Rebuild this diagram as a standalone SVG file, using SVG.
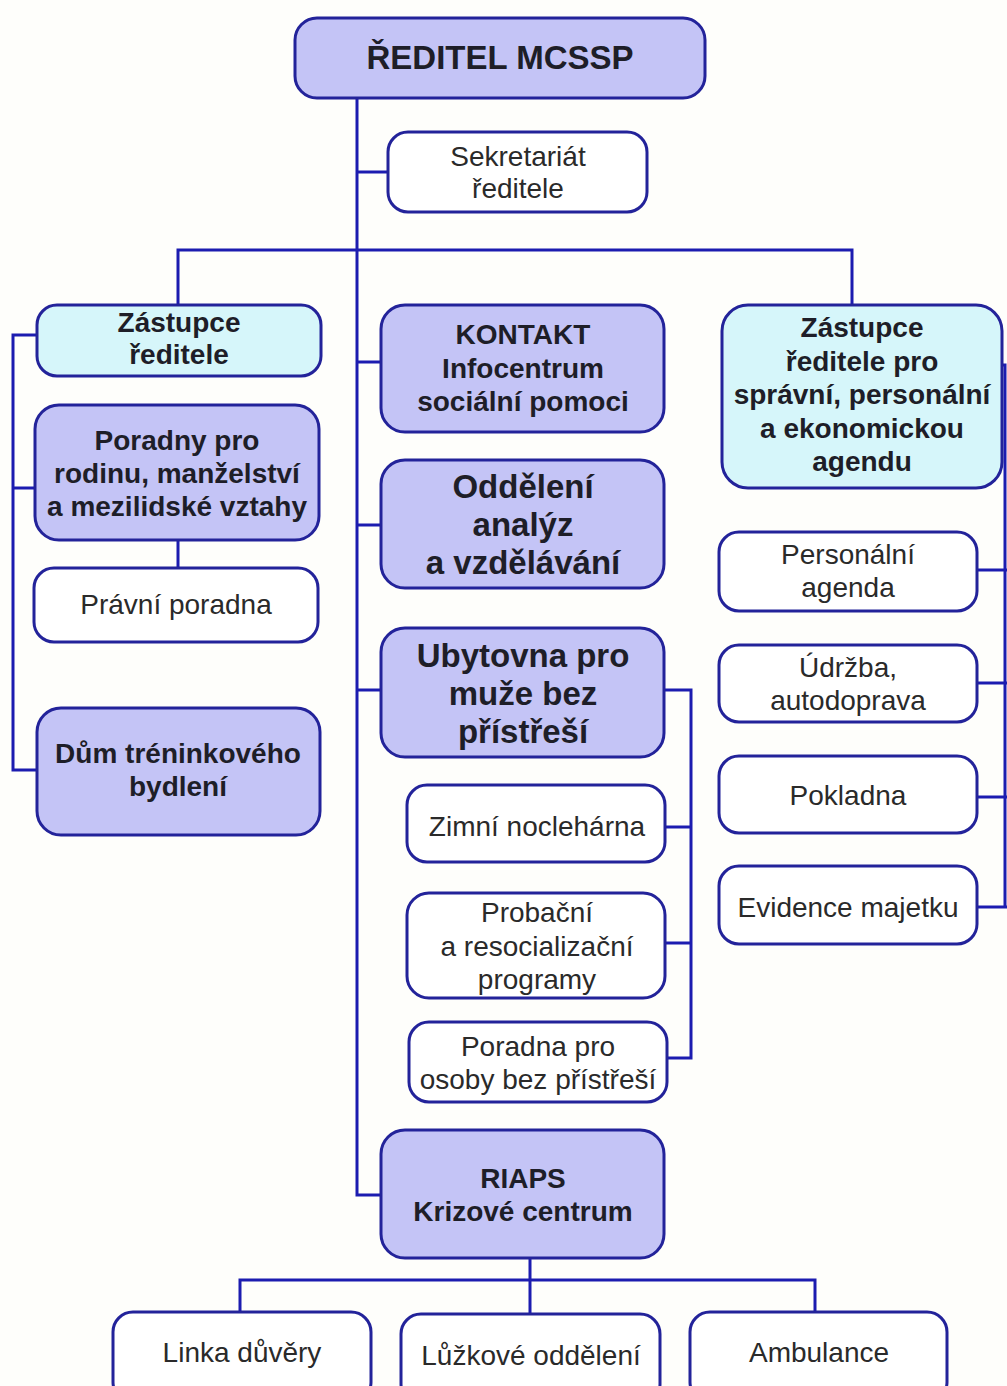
<svg xmlns="http://www.w3.org/2000/svg" width="1007" height="1386" viewBox="0 0 1007 1386">
<style>
  .box{stroke:#23239a;stroke-width:3}
  .lav{fill:#c4c4f6}
  .cy{fill:#d6f6fa}
  .wh{fill:#ffffff}
  .b{font-family:"Liberation Sans",Arial,sans-serif;font-weight:bold;fill:#1e1e28;text-anchor:middle}
  .r{font-family:"Liberation Sans",Arial,sans-serif;font-size:28px;fill:#2a2a2a;text-anchor:middle}
  .s28{font-size:28px}
  .s33{font-size:33px}
  .ln{fill:none;stroke:#1c1cb0;stroke-width:3}
</style>
<rect width="1007" height="1386" fill="#fefefb"/>
<g id="connectors" class="ln">
  <path d="M357,98 V1195 H381"/>
  <path d="M357,172 H388"/>
  <path d="M178,305 V250 H852 V305"/>
  <path d="M37,335 H13 V770 H37"/>
  <path d="M13,488 H35"/>
  <path d="M178,540 V568"/>
  <path d="M357,362 H381"/>
  <path d="M357,525 H381"/>
  <path d="M357,690 H381"/>
  <path d="M664,690 H691 V1058 H667"/>
  <path d="M665,827 H691"/>
  <path d="M665,943 H691"/>
  <path d="M1002,365 H1005 V907"/>
  <path d="M977,570 H1007"/>
  <path d="M977,683 H1007"/>
  <path d="M977,797 H1007"/>
  <path d="M977,907 H1007"/>
  <path d="M530,1258 V1280"/>
  <path d="M240,1312 V1280 H815 V1312"/>
  <path d="M530,1280 V1314"/>
</g>
<g id="reditel">
  <rect class="box lav" x="295" y="18" width="410" height="80" rx="22"/>
  <text class="b s33" x="500" y="69">ŘEDITEL MCSSP</text>
</g>
<g id="sekretariat">
  <rect class="box wh" x="388" y="132" width="259" height="80" rx="20"/>
  <text class="r" x="518" y="166">Sekretariát</text>
  <text class="r" x="518" y="198">ředitele</text>
</g>
<g id="zastupce">
  <rect class="box cy" x="37" y="305" width="284" height="71" rx="20"/>
  <text class="b s28" x="179" y="332">Zástupce</text>
  <text class="b s28" x="179" y="364">ředitele</text>
</g>
<g id="poradny">
  <rect class="box lav" x="35" y="405" width="284" height="135" rx="24"/>
  <text class="b s28" x="177" y="450">Poradny pro</text>
  <text class="b s28" x="177" y="483">rodinu, manželství</text>
  <text class="b s28" x="177" y="516">a mezilidské vztahy</text>
</g>
<g id="pravni">
  <rect class="box wh" x="34" y="568" width="284" height="74" rx="20"/>
  <text class="r" x="176" y="614">Právní poradna</text>
</g>
<g id="dum">
  <rect class="box lav" x="37" y="708" width="283" height="127" rx="24"/>
  <text class="b s28" x="178" y="763">Dům tréninkového</text>
  <text class="b s28" x="178" y="796">bydlení</text>
</g>
<g id="kontakt">
  <rect class="box lav" x="381" y="305" width="283" height="127" rx="24"/>
  <text class="b s28" x="523" y="344">KONTAKT</text>
  <text class="b s28" x="523" y="378">Infocentrum</text>
  <text class="b s28" x="523" y="411">sociální pomoci</text>
</g>
<g id="oddeleni">
  <rect class="box lav" x="381" y="460" width="283" height="128" rx="24"/>
  <text class="b s33" x="523" y="498">Oddělení</text>
  <text class="b s33" x="523" y="536">analýz</text>
  <text class="b s33" x="523" y="574">a vzdělávání</text>
</g>
<g id="ubytovna">
  <rect class="box lav" x="381" y="628" width="283" height="129" rx="24"/>
  <text class="b s33" x="523" y="667">Ubytovna pro</text>
  <text class="b s33" x="523" y="705">muže bez</text>
  <text class="b s33" x="523" y="743">přístřeší</text>
</g>
<g id="zimni">
  <rect class="box wh" x="407" y="785" width="258" height="77" rx="20"/>
  <text class="r" x="537" y="836">Zimní noclehárna</text>
</g>
<g id="probacni">
  <rect class="box wh" x="407" y="893" width="258" height="105" rx="22"/>
  <text class="r" x="537" y="922">Probační</text>
  <text class="r" x="537" y="956">a resocializační</text>
  <text class="r" x="537" y="989">programy</text>
</g>
<g id="poradna-osoby">
  <rect class="box wh" x="409" y="1022" width="258" height="80" rx="20"/>
  <text class="r" x="538" y="1056">Poradna pro</text>
  <text class="r" x="538" y="1089">osoby bez přístřeší</text>
</g>
<g id="riaps">
  <rect class="box lav" x="381" y="1130" width="283" height="128" rx="24"/>
  <text class="b s28" x="523" y="1188">RIAPS</text>
  <text class="b s28" x="523" y="1221">Krizové centrum</text>
</g>
<g id="linka">
  <rect class="box wh" x="113" y="1312" width="258" height="90" rx="20"/>
  <text class="r" x="242" y="1362">Linka důvěry</text>
</g>
<g id="luzkove">
  <rect class="box wh" x="401" y="1314" width="259" height="90" rx="20"/>
  <text class="r" x="531" y="1365">Lůžkové oddělení</text>
</g>
<g id="ambulance">
  <rect class="box wh" x="690" y="1312" width="257" height="90" rx="20"/>
  <text class="r" x="819" y="1362">Ambulance</text>
</g>
<g id="zastupce-spravni">
  <rect class="box cy" x="722" y="305" width="280" height="183" rx="26"/>
  <text class="b s28" x="862" y="337">Zástupce</text>
  <text class="b s28" x="862" y="371">ředitele pro</text>
  <text class="b s28" x="862" y="404">správní, personální</text>
  <text class="b s28" x="862" y="438">a ekonomickou</text>
  <text class="b s28" x="862" y="471">agendu</text>
</g>
<g id="personalni">
  <rect class="box wh" x="719" y="532" width="258" height="79" rx="20"/>
  <text class="r" x="848" y="564">Personální</text>
  <text class="r" x="848" y="597">agenda</text>
</g>
<g id="udrzba">
  <rect class="box wh" x="719" y="645" width="258" height="77" rx="20"/>
  <text class="r" x="848" y="677">Údržba,</text>
  <text class="r" x="848" y="710">autodoprava</text>
</g>
<g id="pokladna">
  <rect class="box wh" x="719" y="756" width="258" height="77" rx="20"/>
  <text class="r" x="848" y="805">Pokladna</text>
</g>
<g id="evidence">
  <rect class="box wh" x="719" y="866" width="258" height="78" rx="20"/>
  <text class="r" x="848" y="917">Evidence majetku</text>
</g>
</svg>
